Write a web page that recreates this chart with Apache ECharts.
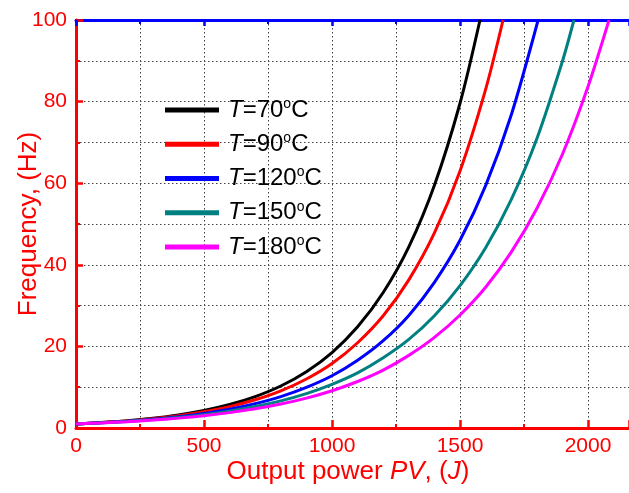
<!DOCTYPE html>
<html><head><meta charset="utf-8">
<script src="https://cdn.jsdelivr.net/npm/echarts@6/dist/echarts.min.js"></script>
<style>html,body{margin:0;padding:0;background:#fff}#c{width:629px;height:493px}</style>
</head><body><div id="c"></div>
<script>
// Data
const legendNames = ['T=70°C', 'T=90°C', 'T=120°C', 'T=150°C', 'T=180°C'];
const colors = ['#000000', '#ff0000', '#0000ff', '#008080', '#ff00ff'];
const xTicks = [0, 500, 1000, 1500, 2000];
const yTicks = [0, 20, 40, 60, 80, 100];

const x70 = [0, 100, 200, 300, 400, 500, 600, 700, 800, 900, 1000, 1100, 1200, 1300, 1400, 1500, 1578];
const y70 = [1.0, 1.34, 1.79, 2.40, 3.21, 4.30, 5.76, 7.71, 10.3, 13.8, 18.5, 24.8, 33.2, 44.4, 59.5, 79.6, 100];
const x90 = [0, 100, 200, 300, 400, 500, 600, 700, 800, 900, 1000, 1100, 1200, 1300, 1400, 1500, 1600, 1668];
const y90 = [1.0, 1.32, 1.74, 2.29, 3.02, 3.98, 5.24, 6.91, 9.10, 12.0, 15.8, 20.9, 27.5, 36.3, 47.8, 63.0, 83.0, 100];
const x120 = [0, 100, 200, 300, 400, 500, 600, 700, 800, 900, 1000, 1100, 1200, 1300, 1400, 1500, 1600, 1700, 1805];
const y120 = [1.0, 1.29, 1.67, 2.15, 2.77, 3.58, 4.62, 5.97, 7.70, 9.95, 12.8, 16.6, 21.4, 27.6, 35.7, 46.0, 59.4, 76.7, 100];
const x150 = [0, 100, 200, 300, 400, 500, 600, 700, 800, 900, 1000, 1100, 1200, 1300, 1400, 1500, 1600, 1700, 1800, 1900, 1945];
const y150 = [1.0, 1.27, 1.61, 2.04, 2.58, 3.27, 4.14, 5.25, 6.65, 8.43, 10.7, 13.5, 17.2, 21.7, 27.5, 34.9, 44.2, 56.0, 70.9, 89.9, 100];
const x180 = [0, 100, 200, 300, 400, 500, 600, 700, 800, 900, 1000, 1100, 1200, 1300, 1400, 1500, 1600, 1700, 1800, 1900, 2000, 2082];
const y180 = [1.0, 1.25, 1.56, 1.94, 2.42, 3.02, 3.77, 4.70, 5.87, 7.32, 9.14, 11.4, 14.2, 17.8, 22.2, 27.7, 34.5, 43.1, 53.8, 67.1, 83.7, 100];

const xs = [x70, x90, x120, x150, x180];
const ys = [y70, y90, y120, y150, y180];

const FONT = '"Liberation Sans", Arial, sans-serif';
const dotted = {show: true, lineStyle: {color: '#444', width: 1, type: [1.5, 2.5]}};

const chart = echarts.init(document.getElementById('c'));
chart.setOption({
  animation: false,
  backgroundColor: '#fff',
  grid: {left: 76, right: 0, top: 20, bottom: 65, containLabel: false, outerBoundsMode: 'none'},
  legend: {
    orient: 'vertical', left: 165, top: 97, itemGap: 8.25, padding: 0,
    icon: 'rect', itemWidth: 54, itemHeight: 5,
    data: legendNames,
    formatter: function (name) {
      const m = name.match(/^T=(\d+)°C$/);
      return '{i|T}{n|=' + m[1] + '}{s|o}{n|C}';
    },
    textStyle: {
      fontFamily: FONT, color: '#000',
      rich: {
        i: {fontFamily: FONT, fontSize: 24, fontStyle: 'italic', lineHeight: 26, color: '#000', padding: [0, 0, 0, 4]},
        n: {fontFamily: FONT, fontSize: 24, lineHeight: 26, color: '#000'},
        s: {fontFamily: FONT, fontSize: 14, lineHeight: 26, verticalAlign: 'top', color: '#000', padding: [0, 0, 12, 0]}
      }
    }
  },
  xAxis: [{
    type: 'value', min: 0, max: 2160, interval: 500, position: 'bottom',
    name: '{n|Output power }{i|PV}{n|, (}{i|J}{n|)}',
    nameLocation: 'middle', nameGap: 31, nameMoveOverlap: false,
    nameTextStyle: {
      padding: [0, 9, 0, 0],
      rich: {
        n: {fontFamily: FONT, fontSize: 26, color: '#ff0000'},
        i: {fontFamily: FONT, fontSize: 26, color: '#ff0000', fontStyle: 'italic'}
      }
    },
    axisLine: {show: true, lineStyle: {color: '#ff0000', width: 3}},
    axisTick: {show: true, inside: true, length: 8, lineStyle: {color: '#ff0000', width: 2.5}},
    minorTick: {show: true, splitNumber: 2, length: 4, lineStyle: {color: '#ff0000', width: 2}},
    axisLabel: {
      color: '#ff0000', fontFamily: FONT, fontSize: 21, margin: 8, showMaxLabel: false,
      formatter: v => xTicks.indexOf(v) >= 0 ? String(v) : ''
    },
    splitLine: dotted,
    minorSplitLine: dotted
  }, {
    type: 'value', min: 0, max: 2160, interval: 500, position: 'top',
    axisLine: {show: true, lineStyle: {color: '#0000ff', width: 3}},
    axisTick: {show: true, inside: true, length: 6, lineStyle: {color: '#0000ff', width: 2.5}},
    minorTick: {show: true, splitNumber: 2, length: 4, lineStyle: {color: '#0000ff', width: 2}},
    axisLabel: {show: false},
    splitLine: {show: false}
  }],
  yAxis: {
    type: 'value', min: 0, max: 100, interval: 20,
    name: 'Frequency, (Hz)', nameLocation: 'middle', nameGap: 34, nameMoveOverlap: false,
    nameTextStyle: {fontFamily: FONT, fontSize: 26, color: '#ff0000'},
    axisLine: {show: true, lineStyle: {color: '#ff0000', width: 3}},
    axisTick: {show: true, inside: true, length: 7, lineStyle: {color: '#ff0000', width: 2.5}},
    minorTick: {show: true, splitNumber: 2, length: 4, lineStyle: {color: '#ff0000', width: 2}},
    axisLabel: {
      color: '#ff0000', fontFamily: FONT, fontSize: 21, margin: 9,
      formatter: v => yTicks.indexOf(v) >= 0 ? String(v) : ''
    },
    splitLine: dotted,
    minorSplitLine: dotted
  },
  series: legendNames.map((n, k) => ({
    name: n, type: 'line', xAxisIndex: 0, showSymbol: false, symbol: 'none', smooth: 0.3,
    lineStyle: {color: colors[k], width: 3},
    itemStyle: {color: colors[k]},
    data: xs[k].map((x, i) => [x, ys[k][i]])
  }))
});
</script></body></html>
